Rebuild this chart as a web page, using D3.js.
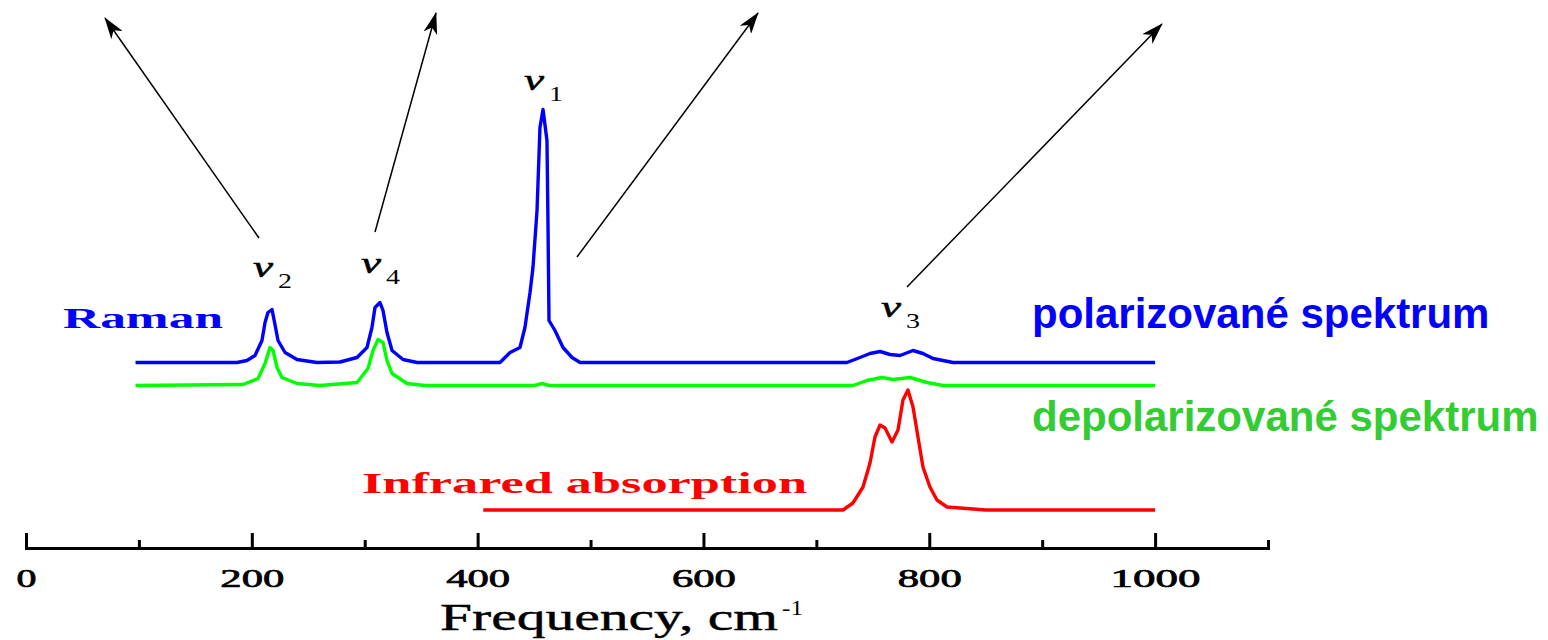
<!DOCTYPE html>
<html>
<head>
<meta charset="utf-8">
<script src="https://cdn.jsdelivr.net/npm/d3@7"></script>
<style>
  html, body { margin: 0; padding: 0; background: #ffffff; }
  svg { display: block; }
</style>
</head>
<body>
<svg id="chart" width="1548" height="640"></svg>
<script>
// ---------------- DATA ----------------
const majorTicks = [0, 200, 400, 600, 800, 1000];
const minorTicks = [100, 300, 500, 700, 900, 1100];
const tickLabels = ["0", "200", "400", "600", "800", "1000"];

// Raman, polarized (blue) — frequency (cm-1) and relative intensity above its baseline
const polFreq = [97, 187, 195.7, 202.8, 209, 211.7, 214.3, 217.9, 220.5, 223.2, 229.4, 240, 257.7,
  278.1, 293.2, 302, 306.4, 309.1, 313.5, 316.2, 319.7, 324.2, 333.9, 346.3,
  419.8, 428.7, 437.5, 441.9, 446.4, 449, 452.6, 455.2, 457.9, 461.4, 462.3, 463.2, 468.5, 475.6, 483.6, 490.7,
  727.1, 738.6, 747.5, 756.4, 765.2, 774.1, 785.6, 794.4, 803.3, 821, 1000];
const polInt = [0, 0, 2, 7, 22, 40, 50, 53, 38, 22, 10, 3, 0,
  0.5, 5, 15, 35, 55, 60, 52, 30, 12, 3, 0,
  0, 10, 15, 35, 70, 95, 152, 235, 253, 222, 140, 42, 32, 15, 5, 0,
  0, 5, 9, 11, 8, 7, 12, 9, 4, 0, 0];

// Raman, depolarized (green)
const depFreq = [97, 192.2, 205.5, 211.7, 216.1, 218.8, 222.3, 226.7, 240, 260.4,
  293.2, 302.9, 307.3, 311.8, 316.2, 319.7, 324.2, 337.4, 353.4,
  450.8, 457, 463.2, 732.4, 744.8, 758.1, 767.9, 782.9, 798, 812.2, 1000];
const depInt = [0, 1, 7, 22, 38, 35, 18, 8, 2, 0,
  3, 17, 35, 46, 43, 25, 12, 2, 0,
  0, 2, 0, 0, 5, 8, 6, 8, 3, 0, 0];

// Infrared absorption (red)
const irFreq = [405, 723.6, 732.4, 741.3, 747.5, 751.9, 756.4, 760.8, 767, 772.3, 776.7, 781.1,
  785.6, 790, 794.4, 800.6, 806.8, 815.7, 838.7, 850, 1000];
const irInt = [0, 0, 7, 23, 47, 73, 85, 82, 68, 80, 110, 120,
  103, 73, 43, 23, 10, 3, 1, 0, 0];

// vertical offsets (baselines) of each trace, in the same intensity units
const seriesNames = ["polarized", "depolarized", "infrared"];
const seriesOffsets = [182.5, 159.5, 35];
const seriesColors = ["#0000ff", "#00ff00", "#ff0000"];

// ---------------- LAYOUT ----------------
const svg = d3.select("#chart");
const x = d3.scaleLinear().domain([0, 1100]).range([26, 1268]);
const y = d3.scaleLinear().domain([0, 450]).range([545, 95]);
const axisY = 548;
const serif = "'Liberation Serif','Times New Roman',serif";
const sans = "'Liberation Sans', Arial, sans-serif";

// ---------------- AXIS ----------------
const majorAxis = d3.axisBottom(x).tickValues(majorTicks).tickSizeInner(-15).tickSizeOuter(0)
  .tickFormat((d, i) => tickLabels[i]);
const gMajor = svg.append("g").attr("transform", `translate(0,${axisY})`).call(majorAxis);
gMajor.select(".domain").attr("stroke", "#000").attr("stroke-width", 3).attr("stroke-linecap", "square");
gMajor.selectAll(".tick line").attr("stroke", "#000").attr("stroke-width", 3);
const labelWidths = [20, 64, 64, 64, 64, 90];
gMajor.selectAll(".tick text")
  .attr("y", 39).attr("dy", 0)
  .attr("fill", "#000")
  .attr("stroke", "#000").attr("stroke-width", 0.7)
  .attr("font-family", serif)
  .attr("font-weight", "normal")
  .attr("font-size", 26)
  .attr("textLength", (d, i) => labelWidths[i])
  .attr("lengthAdjust", "spacingAndGlyphs");

const minorAxis = d3.axisBottom(x).tickValues(minorTicks).tickSizeInner(-8).tickSizeOuter(0).tickFormat("");
const gMinor = svg.append("g").attr("transform", `translate(0,${axisY})`).call(minorAxis);
gMinor.select(".domain").remove();
gMinor.selectAll(".tick line").attr("stroke", "#000").attr("stroke-width", 3);

// axis title
svg.append("text")
  .attr("x", 440).attr("y", 630)
  .attr("font-family", serif)
  .attr("font-size", 37).attr("fill", "#000")
  .attr("stroke", "#000").attr("stroke-width", 0.4)
  .attr("textLength", 338).attr("lengthAdjust", "spacingAndGlyphs")
  .text("Frequency, cm");
svg.append("text").attr("x", 782).attr("y", 615)
  .attr("font-family", serif)
  .attr("font-size", 21).attr("fill", "#000")
  .attr("textLength", 21).attr("lengthAdjust", "spacingAndGlyphs")
  .text("-1");

// ---------------- SPECTRA ----------------
const series = [
  { f: polFreq, v: polInt },
  { f: depFreq, v: depInt },
  { f: irFreq, v: irInt }
];
const line = d3.line().x(d => x(d[0])).y(d => y(d[1])).curve(d3.curveLinear);
series.forEach((s, i) => {
  const pts = s.f.map((f, k) => [f, s.v[k] + seriesOffsets[i]]);
  svg.append("path")
    .datum(pts)
    .attr("class", "trace " + seriesNames[i])
    .attr("d", line)
    .attr("fill", "none")
    .attr("stroke", seriesColors[i])
    .attr("stroke-width", 3.4)
    .attr("stroke-linejoin", "round");
});

// ---------------- LABELS ----------------
svg.append("text").attr("x", 63).attr("y", 328)
  .attr("font-family", serif).attr("font-weight", "bold").attr("font-size", 30)
  .attr("fill", "#0000ff").attr("textLength", 160).attr("lengthAdjust", "spacingAndGlyphs")
  .text("Raman");
svg.append("text").attr("x", 362).attr("y", 493)
  .attr("font-family", serif).attr("font-weight", "bold").attr("font-size", 30)
  .attr("fill", "#ff0000").attr("textLength", 445).attr("lengthAdjust", "spacingAndGlyphs")
  .text("Infrared absorption");

svg.append("text").attr("x", 1032).attr("y", 328)
  .attr("font-family", sans).attr("font-weight", "bold").attr("font-size", 42)
  .attr("fill", "#0000ff").text("polarizované spektrum");
svg.append("text").attr("x", 1032).attr("y", 431)
  .attr("font-family", sans).attr("font-weight", "bold").attr("font-size", 42)
  .attr("fill", "#33cc33").text("depolarizované spektrum");

// nu labels: [subscript, peak frequency, baseline y of nu]
const nuLabels = [["2", 217.9, 277], ["4", 313.5, 273], ["1", 457.9, 90], ["3", 774, 317]];
nuLabels.forEach(([sub, f, by]) => {
  const cx = x(f);
  svg.append("text").attr("x", cx - 19).attr("y", by)
    .attr("font-family", serif).attr("font-style", "italic")
    .attr("font-size", 30).attr("fill", "#000").attr("stroke", "#000").attr("stroke-width", 0.5)
    .attr("textLength", 20).attr("lengthAdjust", "spacingAndGlyphs").text("ν");
  svg.append("text").attr("x", cx + 6).attr("y", by + 11)
    .attr("font-family", serif).attr("font-size", 22).attr("fill", "#000")
    .attr("textLength", 14).attr("lengthAdjust", "spacingAndGlyphs").text(sub);
});

// ---------------- ARROWS ----------------
const defs = svg.append("defs");
defs.append("marker").attr("id", "ah").attr("viewBox", "0 0 22 14")
  .attr("refX", 21).attr("refY", 7).attr("markerWidth", 22).attr("markerHeight", 14)
  .attr("markerUnits", "userSpaceOnUse").attr("orient", "auto")
  .append("path").attr("d", "M0,0 L22,7 L0,14 L6,7 Z").attr("fill", "#000");
// [tailX, tailY, tipX, tipY]
const arrows = [[259, 238, 105, 18], [375, 232, 436, 13], [577, 257, 758, 13], [907, 287, 1162, 24]];
arrows.forEach(a => {
  svg.append("line").attr("x1", a[0]).attr("y1", a[1]).attr("x2", a[2]).attr("y2", a[3])
    .attr("stroke", "#000").attr("stroke-width", 1.5).attr("marker-end", "url(#ah)");
});
</script>
</body>
</html>
